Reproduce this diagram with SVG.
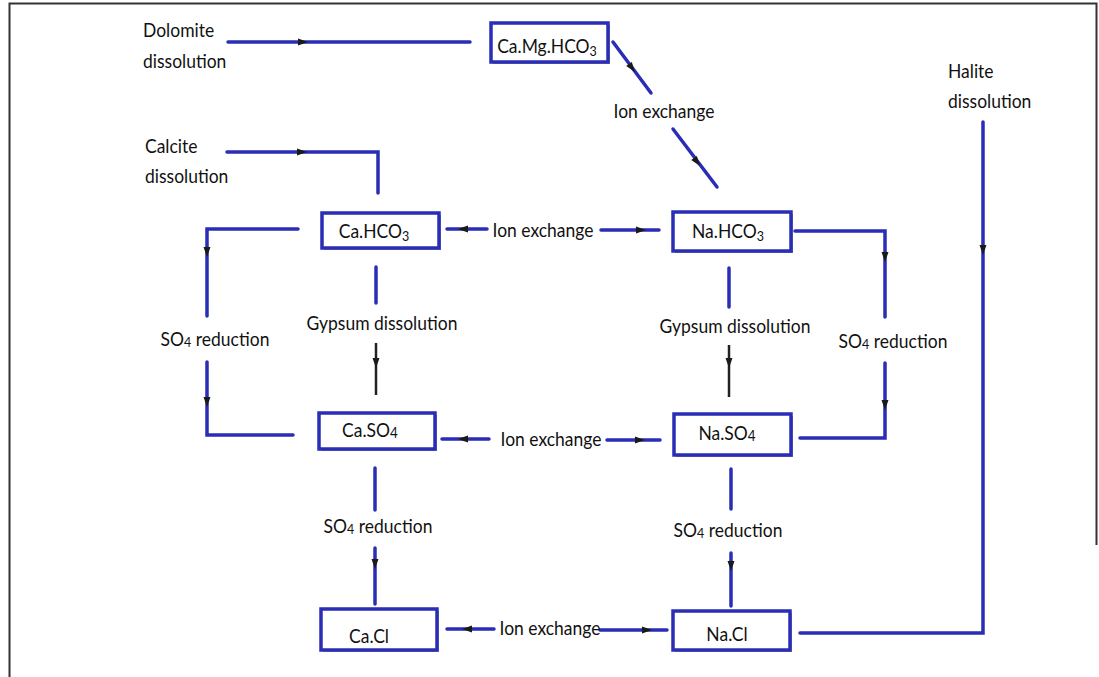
<svg xmlns="http://www.w3.org/2000/svg" xmlns:xlink="http://www.w3.org/1999/xlink" width="1099" height="677" viewBox="0 0 1099 677">
<style>
.t{font-family:Lato,"Liberation Sans",Arial,sans-serif;font-size:17.5px;fill:#111;}
.c{text-anchor:middle;}
.box{fill:#fff;stroke:#2a2db5;stroke-width:3.5;}
.shadow{fill:#9a9a9a;}
.ln{fill:none;stroke:#2a2db5;stroke-width:3.5;stroke-linecap:round;}
.bk{fill:none;stroke:#222;stroke-width:2.5;}
.ah{fill:#1a1a1a;}
</style>
<defs>
<path id="ah" d="M-5,-3.5 L5,0 L-5,3.5 z"/>
</defs>
<rect x="0" y="0" width="1099" height="677" fill="#fff"/>
<path d="M9.5,677 V3.5 H1096.5 V545" fill="none" stroke="#333" stroke-width="2"/>

<g id="connectors">
<path class="ln" d="M228,42 H470"/>
<use href="#ah" class="ah" transform="translate(303,42)"/>
<path class="ln" d="M227,152 H378 V193"/>
<use href="#ah" class="ah" transform="translate(302,152)"/>
<path class="ln" d="M613,42 L651,93"/>
<use href="#ah" class="ah" transform="translate(632,68) rotate(53)"/>
<path class="ln" d="M673,129 L717,187"/>
<use href="#ah" class="ah" transform="translate(697,162) rotate(53)"/>
<path class="ln" d="M983,122 V633 H800"/>
<use href="#ah" class="ah" transform="translate(983,250) rotate(90)"/>

<path class="ln" d="M487,229 H447"/>
<use href="#ah" class="ah" transform="translate(463,229) rotate(180)"/>
<path class="ln" d="M601,230 H659"/>
<use href="#ah" class="ah" transform="translate(641,230)"/>
<path class="ln" d="M489,439 H442"/>
<use href="#ah" class="ah" transform="translate(463,439) rotate(180)"/>
<path class="ln" d="M607,440 H660"/>
<use href="#ah" class="ah" transform="translate(640,440)"/>
<path class="ln" d="M494,629 H447"/>
<use href="#ah" class="ah" transform="translate(467,629) rotate(180)"/>
<path class="ln" d="M600,630 H667"/>
<use href="#ah" class="ah" transform="translate(647,630)"/>

<path class="ln" d="M298,229 H207 V316"/>
<use href="#ah" class="ah" transform="translate(207,252) rotate(90)"/>
<path class="ln" d="M207,362 V435 H293"/>
<use href="#ah" class="ah" transform="translate(207,402) rotate(90)"/>
<path class="ln" d="M795,231 H885 V317"/>
<use href="#ah" class="ah" transform="translate(885,257) rotate(90)"/>
<path class="ln" d="M885,363 V438 H800"/>
<use href="#ah" class="ah" transform="translate(885,405) rotate(90)"/>

<path class="ln" d="M376,267 V303"/>
<path class="bk" d="M376,343 V395"/>
<use href="#ah" class="ah" transform="translate(376,363) rotate(90)"/>
<path class="ln" d="M729,268 V307"/>
<path class="bk" d="M729,345 V397"/>
<use href="#ah" class="ah" transform="translate(729,363) rotate(90)"/>

<path class="ln" d="M375,468 V510"/>
<path class="ln" d="M375,548 V604"/>
<use href="#ah" class="ah" transform="translate(375,564) rotate(90)"/>
<path class="ln" d="M731,469 V509"/>
<path class="ln" d="M731,553 V606"/>
<use href="#ah" class="ah" transform="translate(731,566) rotate(90)"/>
</g>

<g id="labels">
<text class="t" transform="translate(143,37) scale(1,1.12)">Dolomite</text>
<text class="t" transform="translate(143,68) scale(1,1.12)">dissolution</text>
<text class="t" transform="translate(145,153) scale(1,1.12)">Calcite</text>
<text class="t" transform="translate(145,183) scale(1,1.12)">dissolution</text>
<text class="t" transform="translate(948,78) scale(1,1.12)">Halite</text>
<text class="t" transform="translate(948,108) scale(1,1.12)">dissolution</text>
<text class="t c" transform="translate(664,118) scale(1,1.12)">Ion exchange</text>
<text class="t c" transform="translate(543,237) scale(1,1.12)">Ion exchange</text>
<text class="t c" transform="translate(551,446) scale(1,1.12)">Ion exchange</text>
<text class="t c" transform="translate(550,635) scale(1,1.12)">Ion exchange</text>
<text class="t c" transform="translate(215,346) scale(1,1.12)">SO<tspan font-size="12.5" dy="1">4</tspan><tspan dy="-1"> reduction</tspan></text>
<text class="t c" transform="translate(893,348) scale(1,1.12)">SO<tspan font-size="12.5" dy="1">4</tspan><tspan dy="-1"> reduction</tspan></text>
<text class="t c" transform="translate(378,533) scale(1,1.12)">SO<tspan font-size="12.5" dy="1">4</tspan><tspan dy="-1"> reduction</tspan></text>
<text class="t c" transform="translate(728,537) scale(1,1.12)">SO<tspan font-size="12.5" dy="1">4</tspan><tspan dy="-1"> reduction</tspan></text>
<text class="t c" transform="translate(382,330) scale(1,1.12)">Gypsum dissolution</text>
<text class="t c" transform="translate(735,333) scale(1,1.12)">Gypsum dissolution</text>
</g>

<g id="node-camghco3">
<rect class="shadow" x="493" y="25" width="117" height="39"/>
<rect class="box" x="491" y="23" width="117" height="39"/>
<text class="t c" transform="translate(547,53) scale(1,1.12)">Ca.Mg.HCO<tspan font-size="12.5" dy="3">3</tspan></text>
</g>
<g id="node-cahco3">
<rect class="shadow" x="324" y="215" width="117" height="35"/>
<rect class="box" x="322" y="213" width="117" height="35"/>
<text class="t c" transform="translate(374,238) scale(1,1.12)">Ca.HCO<tspan font-size="12.5" dy="3">3</tspan></text>
</g>
<g id="node-nahco3">
<rect class="shadow" x="675" y="214" width="118" height="39"/>
<rect class="box" x="673" y="212" width="118" height="39"/>
<text class="t c" transform="translate(728,238) scale(1,1.12)">Na.HCO<tspan font-size="12.5" dy="3">3</tspan></text>
</g>
<g id="node-caso4">
<rect class="shadow" x="321" y="415" width="116" height="36"/>
<rect class="box" x="319" y="413" width="116" height="36"/>
<text class="t c" transform="translate(370,437) scale(1,1.12)">Ca.SO<tspan font-size="13.5" dy="1">4</tspan></text>
</g>
<g id="node-naso4">
<rect class="shadow" x="676" y="416" width="117" height="41"/>
<rect class="box" x="674" y="414" width="117" height="41"/>
<text class="t c" transform="translate(727,440) scale(1,1.12)">Na.SO<tspan font-size="13.5" dy="1">4</tspan></text>
</g>
<g id="node-cacl">
<rect class="shadow" x="323" y="611" width="116" height="41"/>
<rect class="box" x="321" y="609" width="116" height="41"/>
<text class="t c" transform="translate(369,643) scale(1,1.12)">Ca.Cl</text>
</g>
<g id="node-nacl">
<rect class="shadow" x="675" y="613" width="117" height="39"/>
<rect class="box" x="673" y="611" width="117" height="39"/>
<text class="t c" transform="translate(727,641) scale(1,1.12)">Na.Cl</text>
</g>
</svg>
